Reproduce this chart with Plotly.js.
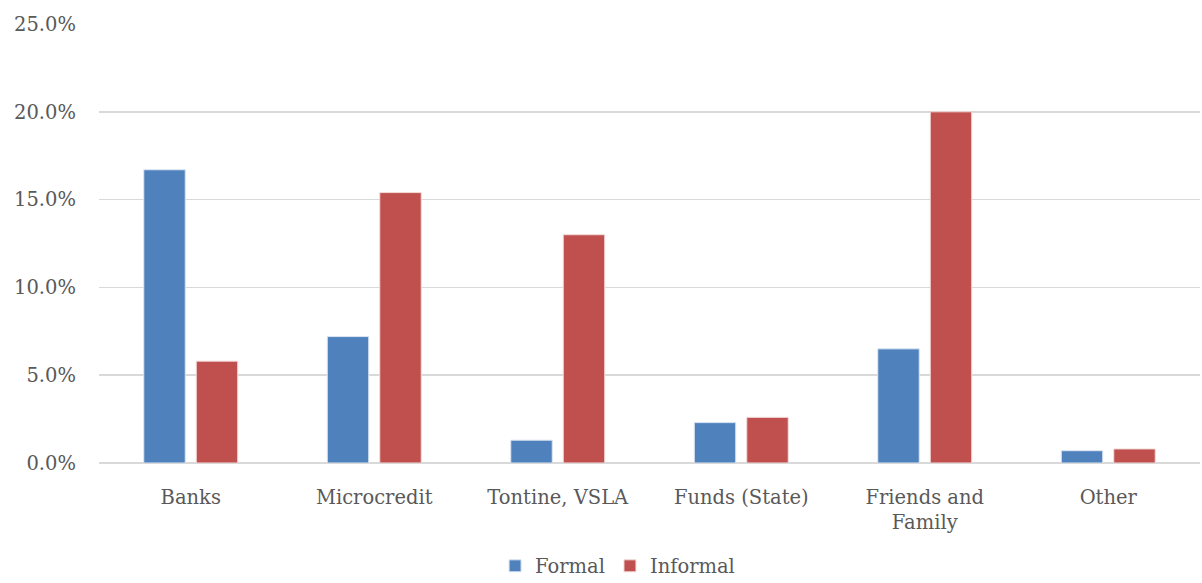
<!DOCTYPE html>
<html>
<head>
<meta charset="utf-8">
<script src="https://cdn.plot.ly/plotly-3.0.1.min.js"></script>
<style>html,body{margin:0;padding:0;background:#fff;}#chart{width:1202px;height:583px;}</style>
</head>
<body>
<div id="chart"></div>
<script>
var categories = ["Banks", "Microcredit", "Tontine, VSLA", "Funds (State)", "Friends and<br>Family", "Other"];
var formal = [0.167, 0.072, 0.013, 0.023, 0.065, 0.007];
var informal = [0.058, 0.154, 0.130, 0.026, 0.200, 0.008];
var yTicks = [0, 0.05, 0.10, 0.15, 0.20, 0.25];

var fontFam = "DejaVu Serif, Liberation Serif, serif";
var traces = [
  {type: "bar", name: "Formal", x: categories, y: formal,
   marker: {color: "#4F81BD", line: {color: "#DCE6F2", width: 1}}, hoverinfo: "y"},
  {type: "bar", name: "Informal", x: categories, y: informal,
   marker: {color: "#C0504D", line: {color: "#F2DCDB", width: 1}}, hoverinfo: "y"}
];
var layout = {
  width: 1202, height: 583,
  margin: {l: 99, r: 2, t: 24, b: 120, autoexpand: false},
  paper_bgcolor: "#fff", plot_bgcolor: "#fff",
  barmode: "group", bargap: 0.428, bargroupgap: 0.21,
  font: {family: fontFam, size: 19, color: "#595959"},
  xaxis: {type: "category", showgrid: false, ticks: "", showline: false, ticklabelstandoff: 20,
          tickfont: {family: fontFam, size: 19.5, color: "#595959"}, automargin: false},
  yaxis: {range: [0, 0.25], tickvals: yTicks, tickformat: ".1%", showgrid: true,
          gridcolor: "#D9D9D9", gridwidth: 1.5, zeroline: true, zerolinecolor: "#D9D9D9",
          zerolinewidth: 1.5, showline: false, ticks: "", ticklabelstandoff: 22,
          tickfont: {family: fontFam, size: 19.5, color: "#595959"}, automargin: false},
  legend: {orientation: "h", x: 0.471, xanchor: "center", y: -0.235, yanchor: "middle",
           font: {family: fontFam, size: 19.5, color: "#595959"}, itemwidth: 30, traceorder: "normal"},
  showlegend: true
};
Plotly.newPlot("chart", traces, layout, {displayModeBar: false, staticPlot: true});
</script>
</body>
</html>
